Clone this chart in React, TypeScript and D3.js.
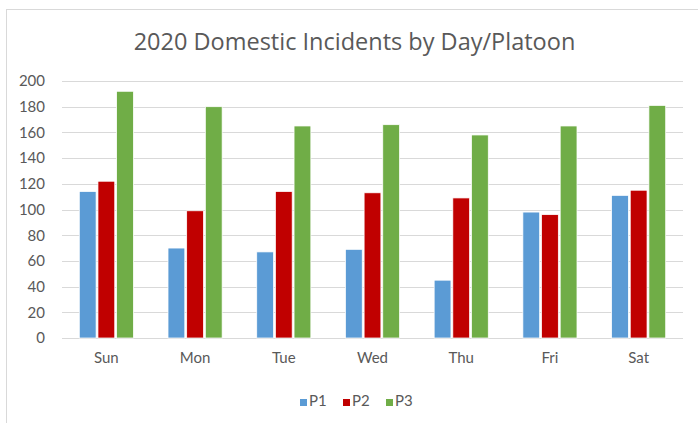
import React, { useEffect, useRef } from 'react';
import * as d3 from 'd3';

const days = ['Sun', 'Mon', 'Tue', 'Wed', 'Thu', 'Fri', 'Sat'];
const platoons = ['P1', 'P2', 'P3'];
const p1 = [114, 70, 67, 69, 45, 98, 111];
const p2 = [122, 99, 114, 113, 109, 96, 115];
const p3 = [192, 180, 165, 166, 158, 165, 181];
const yTicks = [0, 20, 40, 60, 80, 100, 120, 140, 160, 180, 200];
const colors = ['#5b9bd5', '#c00000', '#70ad47'];

const App: React.FC = () => {
  const ref = useRef<SVGSVGElement | null>(null);

  useEffect(() => {
    const width = 698;
    const margin = { top: 81, right: 15, bottom: 85, left: 62 };
    const font = 'Lato, "Open Sans", sans-serif';

    const svg = d3.select(ref.current);
    svg.selectAll('*').remove();

    // chart frame
    svg
      .append('rect')
      .attr('x', 6.5)
      .attr('y', 9.5)
      .attr('width', 720)
      .attr('height', 440)
      .attr('fill', '#fff')
      .attr('stroke', '#d9d9d9');

    svg
      .append('text')
      .attr('x', 354.5)
      .attr('y', 50)
      .attr('text-anchor', 'middle')
      .style('font-family', '"Open Sans", sans-serif')
      .style('font-size', '23.5px')
      .attr('fill', '#595959')
      .text('2020 Domestic Incidents by Day/Platoon');

    const plotW = width - margin.left - margin.right;
    const plotH = 338 - margin.top;

    const g = svg.append('g').attr('transform', `translate(${margin.left},${margin.top})`);

    const x0 = d3.scaleBand().domain(days).range([0, plotW]).paddingInner(0.39).paddingOuter(0.195);
    const x1 = d3.scaleBand().domain(platoons).range([0, x0.bandwidth()]).paddingInner(0.1);
    const y = d3.scaleLinear().domain([0, 200]).range([plotH, 0]);

    // gridlines
    g.selectAll('.grid')
      .data(yTicks)
      .enter()
      .append('line')
      .attr('x1', 0)
      .attr('x2', plotW)
      .attr('y1', (d) => Math.round(y(d)) + 0.5)
      .attr('y2', (d) => Math.round(y(d)) + 0.5)
      .attr('stroke', '#d9d9d9')
      .attr('stroke-width', 1);

    const yAxis = g.append('g').call(d3.axisLeft(y).tickValues(yTicks).tickSize(0).tickPadding(17));
    yAxis.select('.domain').remove();
    yAxis
      .selectAll('text')
      .style('font-family', font)
      .style('font-size', '15px')
      .attr('fill', '#595959');

    const series = [p1, p2, p3];
    const data = days.flatMap((day, i) =>
      platoons.map((p, j) => ({ day, p, value: series[j][i], color: colors[j] }))
    );

    g.selectAll('.bar')
      .data(data)
      .enter()
      .append('rect')
      .attr('class', 'bar')
      .attr('x', (d) => (x0(d.day) ?? 0) + (x1(d.p) ?? 0))
      .attr('y', (d) => y(d.value))
      .attr('width', x1.bandwidth())
      .attr('height', (d) => plotH - y(d.value))
      .attr('fill', (d) => d.color)
      .attr('stroke', '#fff')
      .attr('stroke-width', 0.75);

    const xAxis = g
      .append('g')
      .attr('transform', `translate(0,${plotH})`)
      .call(d3.axisBottom(x0).tickSize(0).tickPadding(14));
    xAxis.select('.domain').remove();
    xAxis
      .selectAll('text')
      .style('font-family', font)
      .style('font-size', '15px')
      .attr('fill', '#595959');

    // legend
    const legend = svg.append('g').attr('transform', 'translate(300,0)');
    platoons.forEach((p, i) => {
      const item = legend.append('g').attr('transform', `translate(${i * 43},0)`);
      item.append('rect').attr('x', 0).attr('y', 399).attr('width', 7).attr('height', 7).attr('fill', colors[i]);
      item
        .append('text')
        .attr('x', 9)
        .attr('y', 406)
        .style('font-family', font)
        .style('font-size', '15px')
        .attr('fill', '#595959')
        .text(p);
    });
  }, []);

  return (
    <svg
      ref={ref}
      width={698}
      height={423}
      style={{ position: 'absolute', left: 0, top: 0, display: 'block' }}
    />
  );
};

export default App;
